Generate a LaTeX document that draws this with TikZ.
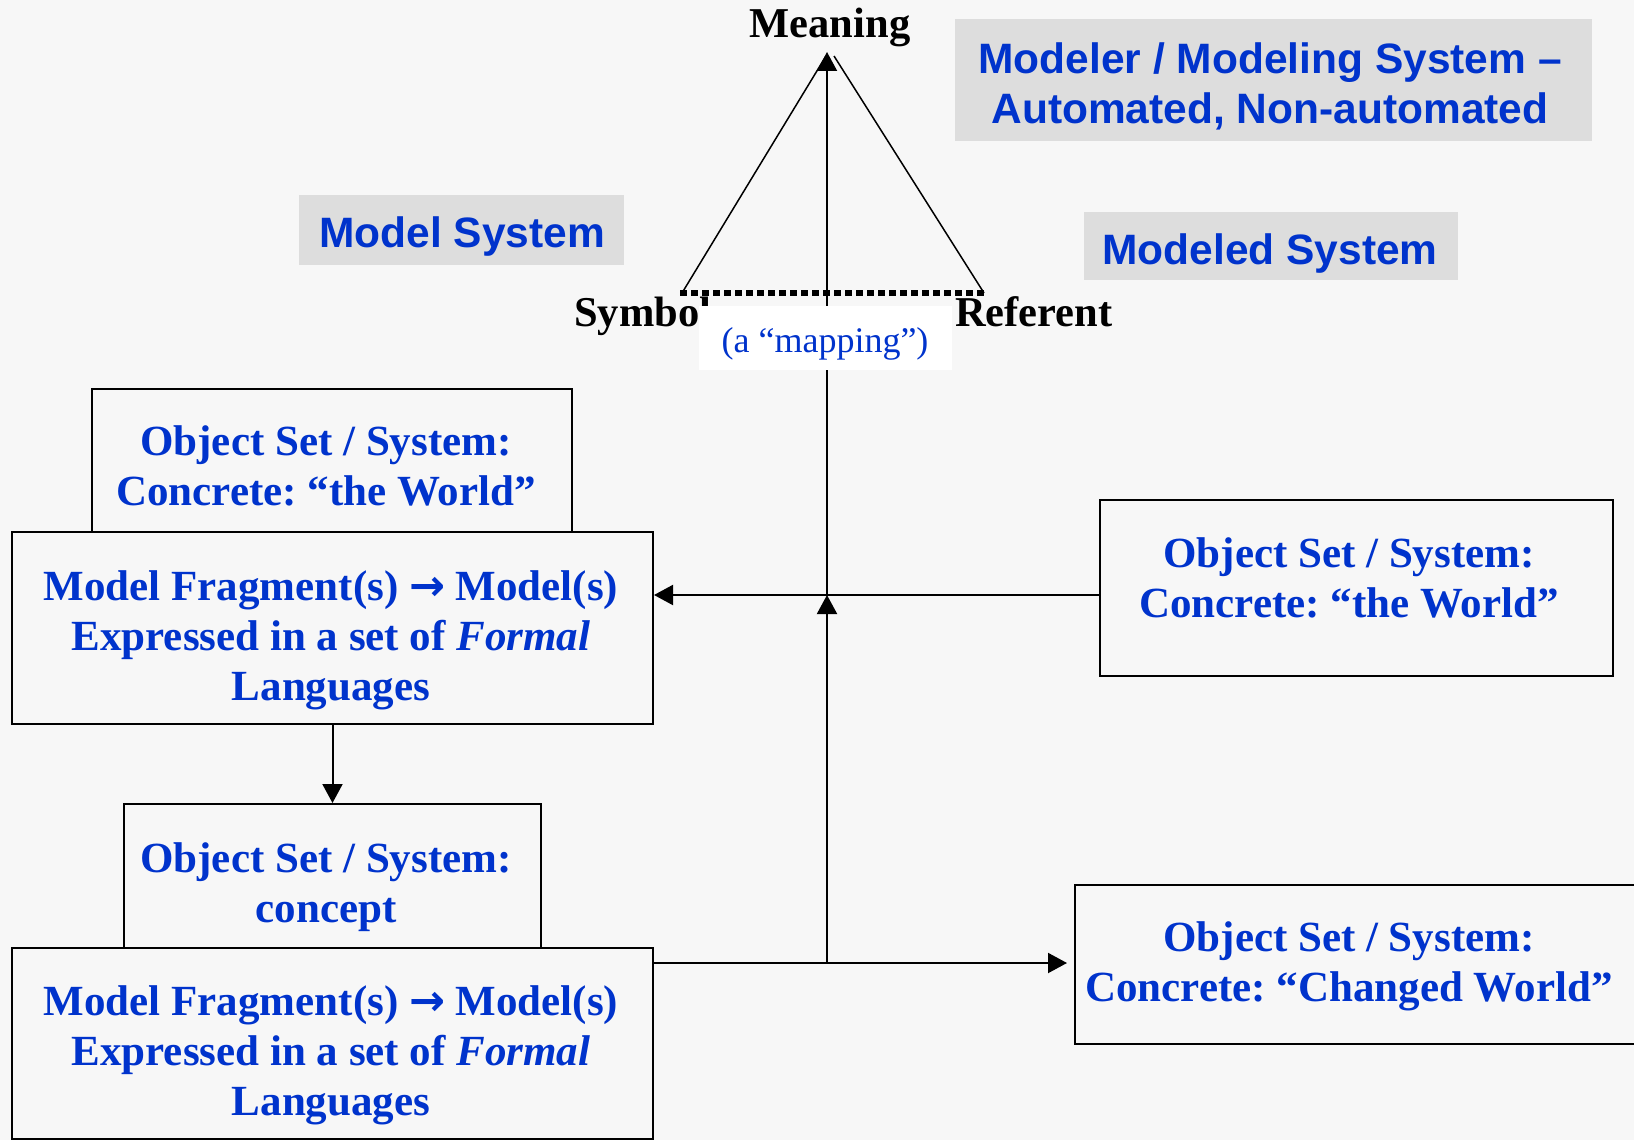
\documentclass[tikz,border=0pt]{standalone}
\usepackage{fontspec}
\setmainfont{Liberation Serif}
\newfontfamily\arialf{Liberation Sans}
\newfontfamily\dejavu{DejaVu Sans}
\usetikzlibrary{arrows.meta}
\definecolor{bgc}{HTML}{F7F7F7}
\definecolor{graybox}{HTML}{DDDDDD}
\definecolor{txtblue}{HTML}{0033CC}
\newcommand{\bigarr}{{\dejavu\bfseries →}}
\begin{document}
\frenchspacing
\begin{tikzpicture}[x=1pt,y=-1pt,
  box/.style={draw=black, line width=2pt, anchor=north west, inner sep=0pt, rectangle},
  btext/.style={text=txtblue, font=\fontsize{43}{50}\selectfont\bfseries, align=center, inner sep=0pt, anchor=center},
  stext/.style={text=txtblue, font=\arialf\fontsize{42.5}{50}\selectfont\bfseries, align=center, inner sep=0pt, anchor=center},
  graylbl/.style={fill=graybox, anchor=north west, inner sep=0pt, rectangle},
  lbl/.style={font=\fontsize{42.5}{50}\selectfont\bfseries, inner sep=0pt},
  conn/.style={line width=2pt},
  tip/.style={-{Triangle[length=19pt,width=20pt]}},
]
\useasboundingbox (0,0) rectangle (1634,1140);
\fill[bgc] (0,0) rectangle (1634,1140);
\begin{scope}
\clip (0,0) rectangle (1634,1140);

% gray title boxes
\node[graylbl, minimum width=637pt, minimum height=122pt] (modelerbox) at (955,19) {};
\node[stext] (modeler) at (1270,88) {\strut Modeler / Modeling System –\\\strut Automated, Non-automated};
\node[graylbl, minimum width=325pt, minimum height=70pt] (modelbox) at (299,195) {};
\node[stext] (modelsys) at (462,237) {\strut Model System};
\node[graylbl, minimum width=374pt, minimum height=68pt] (modeledbox) at (1084,212) {};
\node[stext] (modeledsys) at (1270,254) {\strut Modeled System};

% boxes
\node[box, minimum width=480pt, minimum height=143pt] (osTL) at (91,388) {};
\node[box, minimum width=641pt, minimum height=192pt] (modTL) at (11,531) {};
\node[box, minimum width=417pt, minimum height=144pt] (osBL) at (123,803) {};
\node[box, minimum width=641pt, minimum height=191pt] (modBL) at (11,947) {};
\node[box, minimum width=513pt, minimum height=176pt] (osR1) at (1099,499) {};
\node[box, minimum width=600pt, minimum height=159pt] (osR2) at (1074,884) {};

\node[btext] (tTL) at (326,470) {\strut Object Set / System:\\\strut Concrete: “the World”};
\node[btext] (tMTL) at (331,640) {\strut Model Fragment(s) \bigarr{} Model(s)\\\strut Expressed in a set of \textit{Formal}\\\strut Languages};
\node[btext] (tBL) at (326,887) {\strut Object Set / System:\\\strut concept};
\node[btext] (tMBL) at (331,1055) {\strut Model Fragment(s) \bigarr{} Model(s)\\\strut Expressed in a set of \textit{Formal}\\\strut Languages};
\node[btext] (tR1) at (1349,582) {\strut Object Set / System:\\\strut Concrete: “the World”};
\node[btext] (tR2) at (1349,966) {\strut Object Set / System:\\\strut Concrete: “Changed World”};

% triangle
\coordinate (S) at (680,293);
\coordinate (R) at (986,293);
\coordinate (aL) at (826,56);
\coordinate (aR) at (834,56);
\coordinate (apex) at (827,52);
\coordinate (J1) at (827,595);
\coordinate (J2) at (827,963);
\draw[line width=1.5pt] ([xshift=2pt]S) -- (aL);
\draw[line width=1.5pt] (aR) -- ([xshift=-2pt]R);
\draw[line width=6.5pt, dash pattern=on 6.5pt off 4.5pt] (S) -- (R);

% connectors
\draw[conn,tip] (J1) -- (apex);
\draw[conn,tip] (osR1.west |- J1) -- (modTL.east |- J1);
\draw[conn,tip] (J2) -- (J1);
\draw[conn] (modBL.east |- J2) -- (J2);
\draw[conn,tip] (J2) -- ([xshift=-7pt]osR2.west |- J2);
\draw[conn,tip] (modTL.south) -- (osBL.north);

% labels
\node[lbl, anchor=base] (meaning) at (830,38) {Meaning};
\node[lbl, anchor=base west] (symbol) at (574,326) {Symbol};
\node[lbl, anchor=base west] (referent) at (955,326) {Referent};
\node[fill=white, anchor=north west, inner sep=0pt, minimum width=253pt, minimum height=64pt] (mapbox) at (699,306) {};
\node[text=txtblue, font=\fontsize{36}{43}\selectfont, inner sep=0pt, anchor=base] (mapping) at (825,352) {(a “mapping”)};
\end{scope}
\end{tikzpicture}
\end{document}
